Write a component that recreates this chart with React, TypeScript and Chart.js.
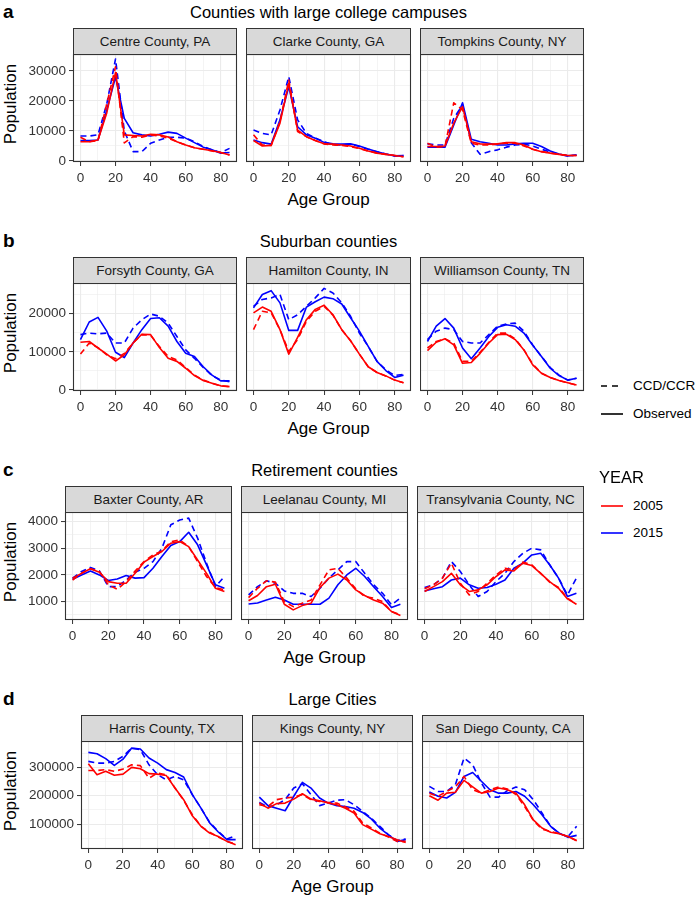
import React, { useEffect, useRef } from 'react';
import { Chart, registerables } from 'chart.js';

Chart.register(...registerables);

const FONT = '"Liberation Sans", Arimo, Arial, Helvetica, sans-serif';
Chart.defaults.font.family = FONT;

// ---------------- data ----------------
const ageGroups = [0, 5, 10, 15, 20, 25, 30, 35, 40, 45, 50, 55, 60, 65, 70, 75, 80, 85];
const xMajorTicks = [0, 20, 40, 60, 80];
const xMinorTicks = [10, 30, 50, 70];

const rowLetters = ['a', 'b', 'c', 'd'];
const rowTitles = ['Counties with large college campuses', 'Suburban counties', 'Retirement counties', 'Large Cities'];
const collegeCounties = ['Centre County, PA', 'Clarke County, GA', 'Tompkins County, NY'];
const suburbanCounties = ['Forsyth County, GA', 'Hamilton County, IN', 'Williamson County, TN'];
const retirementCounties = ['Baxter County, AR', 'Leelanau County, MI', 'Transylvania County, NC'];
const cityCounties = ['Harris County, TX', 'Kings County, NY', 'San Diego County, CA'];

const yMajorA = [0, 10000, 20000, 30000];
const yMinorA = [5000, 15000, 25000, 35000];
const yRangeA = [-350, 35650];
const yMajorB = [0, 10000, 20000];
const yMinorB = [5000, 15000, 25000];
const yRangeB = [-250, 28000];
const yMajorC = [1000, 2000, 3000, 4000];
const yMinorC = [500, 1500, 2500, 3500];
const yRangeC = [310, 4360];
const yMajorD = [100000, 200000, 300000];
const yMinorD = [50000, 150000, 250000, 350000];
const yRangeD = [12000, 393000];

const yearLabels = ['2005', '2015'];
const typeLabels = ['CCD/CCR', 'Observed'];

// College counties
const centre05 = [6400, 6400, 7000, 16000, 29500, 8700, 8500, 8300, 8900, 8700, 8000, 6400, 5300, 4400, 3900, 3400, 2800, 2000];
const centre05ccd = [7900, 6400, 6800, 19000, 31400, 6000, 8100, 7900, 8700, 8300, 7600, 6400, 5300, 4400, 3900, 3300, 2800, 2000];
const centre15 = [6800, 6800, 7000, 17000, 28000, 14200, 9400, 8700, 8300, 8900, 9600, 9200, 7600, 6100, 4600, 3700, 2600, 2800];
const centre15ccd = [8300, 8300, 8700, 19000, 34000, 10000, 3100, 3100, 5900, 7000, 7900, 7900, 7600, 6400, 4800, 3700, 2800, 4200];

const clarke05 = [6800, 5000, 5200, 12600, 25900, 10300, 8100, 6800, 5700, 5600, 5300, 5000, 4200, 3300, 2600, 2200, 1800, 1400];
const clarke05ccd = [8700, 5300, 5200, 13100, 27000, 9800, 8100, 6800, 5700, 5300, 5200, 4800, 4100, 3300, 2600, 2200, 1800, 1400];
const clarke15 = [7000, 6100, 5600, 13700, 24800, 11400, 8700, 7600, 6200, 5700, 5600, 5700, 5000, 4000, 3100, 2300, 1700, 1800];
const clarke15ccd = [10300, 9200, 8700, 17000, 28100, 13700, 9200, 7600, 6400, 5300, 5300, 5700, 4800, 3900, 3100, 2300, 1700, 1800];

const tompkins05 = [4800, 4800, 5000, 12600, 18100, 6400, 5700, 5600, 5700, 6100, 6100, 5300, 3900, 3100, 2600, 2200, 1800, 1800];
const tompkins05ccd = [5900, 4600, 4800, 19400, 17000, 5900, 5300, 5300, 5700, 5900, 5900, 5000, 3900, 3100, 2600, 2200, 1800, 1800];
const tompkins15 = [4600, 4600, 4600, 12000, 19400, 7200, 6400, 5900, 5300, 5300, 5700, 5900, 5900, 4800, 3300, 2300, 1700, 2000];
const tompkins15ccd = [5700, 5300, 5300, 14200, 18700, 6100, 2200, 3100, 3700, 4600, 5300, 5600, 5000, 3900, 3000, 2200, 1700, 2000];

// Suburban counties
const forsyth05 = [12500, 12700, 11000, 9400, 7600, 9200, 12300, 14600, 14500, 11100, 8300, 7500, 5700, 3800, 2500, 1800, 1100, 900];
const forsyth05ccd = [9400, 12300, 11100, 9200, 8200, 9600, 12300, 14500, 14300, 11400, 8800, 7900, 5900, 3900, 2600, 1800, 1100, 900];
const forsyth15 = [13200, 17800, 19000, 15400, 9900, 8500, 12300, 15800, 18700, 18900, 16700, 12700, 9600, 8800, 6100, 3900, 2400, 2400];
const forsyth15ccd = [14500, 14900, 14700, 14900, 12300, 12300, 16200, 18400, 19900, 19300, 17500, 14000, 10500, 8300, 5900, 3800, 2600, 2200];

const hamilton05 = [20200, 21700, 20600, 15800, 9400, 13800, 18400, 21100, 22200, 19700, 15800, 12900, 9400, 6100, 4600, 3700, 2600, 1900];
const hamilton05ccd = [15800, 20600, 20200, 15800, 10100, 13200, 18000, 20600, 21900, 19600, 15800, 12900, 9400, 6100, 4600, 3700, 2600, 1900];
const hamilton15 = [21500, 25000, 26000, 22800, 15600, 15600, 21700, 23100, 24300, 23900, 22500, 18900, 15400, 11400, 7500, 5100, 3300, 3900];
const hamilton15ccd = [21900, 23700, 24100, 25000, 18400, 19700, 21900, 24100, 26600, 25400, 22800, 19300, 14900, 11400, 7500, 5300, 3800, 4100];

const williamson05 = [10300, 12500, 13400, 11800, 7000, 7200, 9600, 12300, 14500, 14600, 13200, 10500, 6600, 4400, 3300, 2500, 1900, 1300];
const williamson05ccd = [11000, 12700, 13400, 12300, 7500, 7500, 9900, 12500, 14900, 14900, 13400, 10500, 6800, 4400, 3300, 2500, 1900, 1300];
const williamson15 = [12700, 16700, 18700, 16200, 11000, 8200, 11000, 14000, 16400, 17100, 16700, 14900, 11700, 8800, 5700, 3800, 2600, 3100];
const williamson15ccd = [13200, 15400, 16200, 15800, 12700, 12300, 12300, 14500, 16700, 17300, 17500, 15400, 11800, 8800, 5900, 3900, 2600, 3100];

// Retirement counties
const baxter05 = [1880, 2060, 2230, 2100, 1750, 1690, 1690, 2060, 2480, 2690, 2880, 3190, 3250, 3060, 2560, 2060, 1500, 1380];
const baxter05ccd = [1810, 2060, 2230, 2130, 1630, 1460, 1750, 2150, 2500, 2750, 2900, 3250, 3310, 3060, 2500, 1940, 1530, 1440];
const baxter15 = [1840, 2000, 2150, 2000, 1790, 1850, 1980, 1880, 1900, 2250, 2690, 3100, 3250, 3600, 3130, 2380, 1630, 1500];
const baxter15ccd = [1880, 2130, 2280, 2150, 1560, 1560, 1810, 2100, 2250, 2500, 3000, 3880, 4060, 4130, 3380, 2440, 1560, 1940];

const leelanau05 = [1030, 1230, 1560, 1650, 900, 690, 850, 940, 1530, 1880, 2030, 1810, 1440, 1230, 1060, 940, 630, 480];
const leelanau05ccd = [1150, 1500, 1780, 1730, 1000, 810, 940, 1060, 1630, 2190, 2250, 1880, 1480, 1190, 1130, 1000, 630, 500];
const leelanau15 = [910, 950, 1060, 1160, 1060, 900, 900, 900, 900, 1130, 1630, 2000, 2250, 1940, 1560, 1190, 780, 900];
const leelanau15ccd = [1250, 1560, 1780, 1690, 1400, 1310, 1310, 1190, 1500, 1880, 2190, 2500, 2500, 2060, 1630, 1310, 880, 1130];

const transylvania05 = [1380, 1560, 1750, 2060, 1630, 1380, 1440, 1630, 1940, 2190, 2150, 2440, 2350, 2060, 1750, 1500, 1100, 900];
const transylvania05ccd = [1480, 1630, 1880, 2440, 1690, 1250, 1380, 1690, 2000, 2250, 2190, 2480, 2380, 2060, 1730, 1530, 1130, 900];
const transylvania15 = [1400, 1480, 1560, 1810, 1880, 1630, 1500, 1530, 1650, 1810, 2250, 2440, 2750, 2810, 2380, 1880, 1190, 1310];
const transylvania15ccd = [1530, 1630, 1880, 2500, 2130, 1630, 1190, 1380, 1750, 2060, 2500, 2810, 3000, 2940, 2380, 1880, 1250, 1880];

// Large cities
const harris05 = [313000, 274000, 286000, 272000, 276000, 300000, 295000, 278000, 276000, 271000, 227000, 186000, 129000, 92000, 68000, 56000, 39000, 27000];
const harris05ccd = [289000, 289000, 292000, 286000, 294000, 309000, 306000, 262000, 280000, 274000, 227000, 184000, 133000, 92000, 71000, 54000, 39000, 29000];
const harris15 = [353000, 348000, 331000, 307000, 329000, 368000, 365000, 333000, 315000, 292000, 282000, 266000, 204000, 156000, 104000, 72000, 45000, 45000];
const harris15ccd = [321000, 315000, 315000, 321000, 339000, 368000, 362000, 309000, 274000, 256000, 268000, 256000, 204000, 156000, 106000, 74000, 47000, 59000];

const kings05 = [174000, 156000, 172000, 174000, 188000, 207000, 188000, 182000, 174000, 168000, 156000, 139000, 98000, 82000, 66000, 56000, 45000, 35000];
const kings05ccd = [168000, 162000, 186000, 192000, 195000, 204000, 186000, 180000, 176000, 174000, 160000, 145000, 104000, 86000, 68000, 54000, 39000, 39000];
const kings15 = [195000, 165000, 156000, 147000, 198000, 247000, 227000, 192000, 174000, 165000, 162000, 156000, 141000, 118000, 86000, 62000, 39000, 45000];
const kings15ccd = [176000, 160000, 168000, 186000, 227000, 242000, 204000, 165000, 174000, 184000, 186000, 168000, 145000, 121000, 92000, 62000, 42000, 47000];

const sandiego05 = [200000, 184000, 209000, 212000, 254000, 231000, 209000, 215000, 227000, 221000, 209000, 168000, 115000, 86000, 71000, 66000, 56000, 41000];
const sandiego05ccd = [209000, 198000, 215000, 231000, 268000, 221000, 209000, 221000, 231000, 224000, 204000, 162000, 113000, 82000, 74000, 66000, 56000, 42000];
const sandiego15 = [213000, 198000, 192000, 212000, 268000, 282000, 251000, 221000, 209000, 209000, 215000, 198000, 168000, 133000, 92000, 68000, 53000, 60000];
const sandiego15ccd = [233000, 215000, 215000, 239000, 333000, 309000, 245000, 195000, 195000, 218000, 231000, 221000, 186000, 139000, 92000, 66000, 56000, 92000];

// ---------------- assembly ----------------
type Series = { values: number[]; year: string; dashed: boolean };
const makeSeries = (o05: number[], c05: number[], o15: number[], c15: number[]): Series[] => [
  { values: c05, year: yearLabels[0], dashed: true },
  { values: o05, year: yearLabels[0], dashed: false },
  { values: c15, year: yearLabels[1], dashed: true },
  { values: o15, year: yearLabels[1], dashed: false },
];

const rows = [
  {
    letter: rowLetters[0], title: rowTitles[0], names: collegeCounties,
    yMajor: yMajorA, yMinor: yMinorA, yRange: yRangeA,
    panels: [
      makeSeries(centre05, centre05ccd, centre15, centre15ccd),
      makeSeries(clarke05, clarke05ccd, clarke15, clarke15ccd),
      makeSeries(tompkins05, tompkins05ccd, tompkins15, tompkins15ccd),
    ],
  },
  {
    letter: rowLetters[1], title: rowTitles[1], names: suburbanCounties,
    yMajor: yMajorB, yMinor: yMinorB, yRange: yRangeB,
    panels: [
      makeSeries(forsyth05, forsyth05ccd, forsyth15, forsyth15ccd),
      makeSeries(hamilton05, hamilton05ccd, hamilton15, hamilton15ccd),
      makeSeries(williamson05, williamson05ccd, williamson15, williamson15ccd),
    ],
  },
  {
    letter: rowLetters[2], title: rowTitles[2], names: retirementCounties,
    yMajor: yMajorC, yMinor: yMinorC, yRange: yRangeC,
    panels: [
      makeSeries(baxter05, baxter05ccd, baxter15, baxter15ccd),
      makeSeries(leelanau05, leelanau05ccd, leelanau15, leelanau15ccd),
      makeSeries(transylvania05, transylvania05ccd, transylvania15, transylvania15ccd),
    ],
  },
  {
    letter: rowLetters[3], title: rowTitles[3], names: cityCounties,
    yMajor: yMajorD, yMinor: yMinorD, yRange: yRangeD,
    panels: [
      makeSeries(harris05, harris05ccd, harris15, harris15ccd),
      makeSeries(kings05, kings05ccd, kings15, kings15ccd),
      makeSeries(sandiego05, sandiego05ccd, sandiego15, sandiego15ccd),
    ],
  },
];

// ---------------- layout / style ----------------
const ROW_TOPS = [0, 229, 458, 687];
const PANEL_LEFTS = [73, 73, 65, 81];
const PANELS_RIGHT = 584;
const PANEL_GAP = 9;
const STRIP_TOP = 28;
const PLOT_TOP = 54;
const PLOT_H = 108;
const Y_AXIS_W = 60;
const X_AXIS_H = 26;
const PAD_T = 2;
const PAD_R = 2;
const RED = '#FF0000';
const BLUE = '#0000FF';
const GRID = '#EBEBEB';
const AXIS_TEXT = '#333333';

const panelBorder = {
  id: 'panelBorder',
  afterDraw(chart: any) {
    const { ctx, chartArea } = chart;
    const { left, top, right, bottom } = chartArea;
    ctx.save();
    ctx.strokeStyle = '#333333';
    ctx.lineWidth = 1.1;
    ctx.strokeRect(Math.round(left) + 0.5, Math.round(top) + 0.5, Math.round(right - left) - 1, Math.round(bottom - top) - 1);
    ctx.restore();
  },
};

type PanelProps = {
  series: Series[]; yMajor: number[]; yMinor: number[]; yRange: number[];
  first: boolean; left: number; width: number; top: number;
};

function Panel({ series, yMajor, yMinor, yRange, first, left, width, top }: PanelProps) {
  const ref = useRef<HTMLCanvasElement | null>(null);
  const yw = first ? Y_AXIS_W : 0;
  const cw = width + yw + PAD_R;
  const ch = PAD_T + PLOT_H + X_AXIS_H;

  useEffect(() => {
    const canvas = ref.current;
    if (!canvas) return;
    const [yMin, yMax] = yRange;
    const yTicks = [...yMajor, ...yMinor].filter((v) => v >= yMin && v <= yMax).sort((a, b) => a - b);
    const xTicks = [...xMajorTicks, ...xMinorTicks].sort((a, b) => a - b);
    const isYMajor = (v: number) => yMajor.includes(v);
    const isXMajor = (v: number) => xMajorTicks.includes(v);

    const chart = new Chart(canvas, {
      type: 'line',
      data: {
        datasets: series.map((s) => ({
          data: ageGroups.map((a, i) => ({ x: a, y: s.values[i] })),
          borderColor: s.year === yearLabels[0] ? RED : BLUE,
          borderWidth: 1.6,
          borderDash: s.dashed ? [6, 4] : [],
          borderJoinStyle: 'round',
          pointRadius: 0,
          fill: false,
          tension: 0,
        })),
      },
      options: {
        animation: false,
        responsive: false,
        maintainAspectRatio: false,
        devicePixelRatio: 1,
        events: [],
        layout: { padding: { top: PAD_T, right: PAD_R, left: 0, bottom: 0 } },
        plugins: { legend: { display: false }, tooltip: { enabled: false } },
        scales: {
          x: {
            type: 'linear',
            min: -4.25,
            max: 89.25,
            afterBuildTicks: (s: any) => { s.ticks = xTicks.map((v) => ({ value: v })); },
            afterFit: (s: any) => { s.height = X_AXIS_H; s.paddingLeft = 0; s.paddingRight = 0; },
            grid: {
              color: GRID,
              lineWidth: (c: any) => (c.tick && isXMajor(c.tick.value) ? 1.1 : 0.55),
              drawTicks: true,
              tickLength: 4,
              tickWidth: 1,
              tickColor: (c: any) => (c.tick && isXMajor(c.tick.value) ? '#333333' : 'rgba(0,0,0,0)'),
            },
            border: { display: false },
            ticks: {
              autoSkip: false,
              maxRotation: 0,
              padding: 4,
              color: AXIS_TEXT,
              font: { family: FONT, size: 13.5 },
              callback: (v: any) => (isXMajor(Number(v)) ? String(v) : ''),
            },
          },
          y: {
            type: 'linear',
            min: yMin,
            max: yMax,
            afterBuildTicks: (s: any) => { s.ticks = yTicks.map((v) => ({ value: v })); },
            afterFit: (s: any) => { s.width = yw; s.paddingTop = 0; s.paddingBottom = 0; },
            grid: {
              color: GRID,
              lineWidth: (c: any) => (c.tick && isYMajor(c.tick.value) ? 1.1 : 0.55),
              drawTicks: first,
              tickLength: 4,
              tickWidth: 1,
              tickColor: (c: any) => (c.tick && isYMajor(c.tick.value) ? '#333333' : 'rgba(0,0,0,0)'),
            },
            border: { display: false },
            ticks: {
              display: first,
              autoSkip: false,
              padding: 3,
              color: AXIS_TEXT,
              font: { family: FONT, size: 13.5 },
              callback: (v: any) => (isYMajor(Number(v)) ? String(v) : ''),
            },
          },
        },
      } as any,
      plugins: [panelBorder],
    } as any);
    return () => chart.destroy();
  }, []);

  return (
    <canvas
      ref={ref}
      width={cw}
      height={ch}
      style={{ position: 'absolute', left: left - yw, top: top - PAD_T, width: cw, height: ch }}
    />
  );
}

function Txt({ x, y, size, text, align = 'left', bold = false, color = '#000' }: any) {
  const h = 24;
  const w = 500;
  const left = align === 'center' ? x - w / 2 : x;
  return (
    <div
      style={{
        position: 'absolute', left, top: y - h / 2, width: align === 'center' ? w : undefined,
        height: h, lineHeight: `${h}px`, fontSize: size, fontWeight: bold ? 700 : 400,
        textAlign: align, whiteSpace: 'nowrap', color,
      }}
    >
      {text}
    </div>
  );
}

export default function App() {
  useEffect(() => {
    document.body.style.margin = '0';
  }, []);

  const elements: any[] = [];
  rows.forEach((row, r) => {
    const R = ROW_TOPS[r];
    const L = PANEL_LEFTS[r];
    const pw = (PANELS_RIGHT - L - 2 * PANEL_GAP) / 3;
    const centerX = (L + PANELS_RIGHT) / 2;
    elements.push(<Txt key={`l${r}`} x={3} y={R + 12} size={19} bold text={row.letter} />);
    elements.push(<Txt key={`t${r}`} x={centerX} y={R + 12} size={16.5} align="center" text={row.title} />);
    elements.push(<Txt key={`ag${r}`} x={centerX} y={R + 200} size={17} align="center" text="Age Group" />);
    elements.push(
      <div
        key={`pop${r}`}
        style={{
          position: 'absolute', left: 11 - 100, top: R + 104 - 12, width: 200, height: 24,
          lineHeight: '24px', fontSize: 17, textAlign: 'center', transform: 'rotate(-90deg)',
          transformOrigin: '50% 50%', whiteSpace: 'nowrap', color: '#000',
        }}
      >
        Population
      </div>
    );
    row.panels.forEach((series, c) => {
      const left = Math.round(L + c * (pw + PANEL_GAP));
      const right = Math.round(L + c * (pw + PANEL_GAP) + pw);
      const width = right - left;
      elements.push(
        <Panel
          key={`p${r}-${c}`}
          series={series}
          yMajor={row.yMajor}
          yMinor={row.yMinor}
          yRange={row.yRange}
          first={c === 0}
          left={left}
          width={width}
          top={R + PLOT_TOP}
        />
      );
      elements.push(
        <div
          key={`s${r}-${c}`}
          style={{
            position: 'absolute', left, top: R + STRIP_TOP, width, height: PLOT_TOP - STRIP_TOP + 1,
            boxSizing: 'border-box', background: '#D9D9D9', border: '1px solid #333333',
            fontSize: 13.5, lineHeight: `${PLOT_TOP - STRIP_TOP - 1}px`, textAlign: 'center',
            color: '#1A1A1A', whiteSpace: 'nowrap', overflow: 'hidden',
          }}
        >
          {row.names[c]}
        </div>
      );
    });
  });

  const legendX = 600;
  const legendTextX = 633;
  const legendItems = [
    { y: 386, text: typeLabels[0], color: '#000', dash: '6 5' },
    { y: 414, text: typeLabels[1], color: '#000', dash: '' },
    { y: 506, text: yearLabels[0], color: RED, dash: '' },
    { y: 533, text: yearLabels[1], color: BLUE, dash: '' },
  ];

  return (
    <div
      style={{
        position: 'absolute', left: 0, top: 0, width: 697, height: 900, background: '#FFFFFF',
        fontFamily: FONT, overflow: 'hidden',
      }}
    >
      {elements}
      {legendItems.map((it, i) => (
        <React.Fragment key={`lg${i}`}>
          <svg
            width={26}
            height={6}
            style={{ position: 'absolute', left: legendX, top: it.y - 3 }}
          >
            <line x1={1} y1={3} x2={23} y2={3} stroke={it.color} strokeWidth={1.6} strokeDasharray={it.dash || undefined} />
          </svg>
          <Txt x={legendTextX} y={it.y} size={13.5} text={it.text} />
        </React.Fragment>
      ))}
      <Txt x={599} y={477} size={16.5} text="YEAR" />
    </div>
  );
}
